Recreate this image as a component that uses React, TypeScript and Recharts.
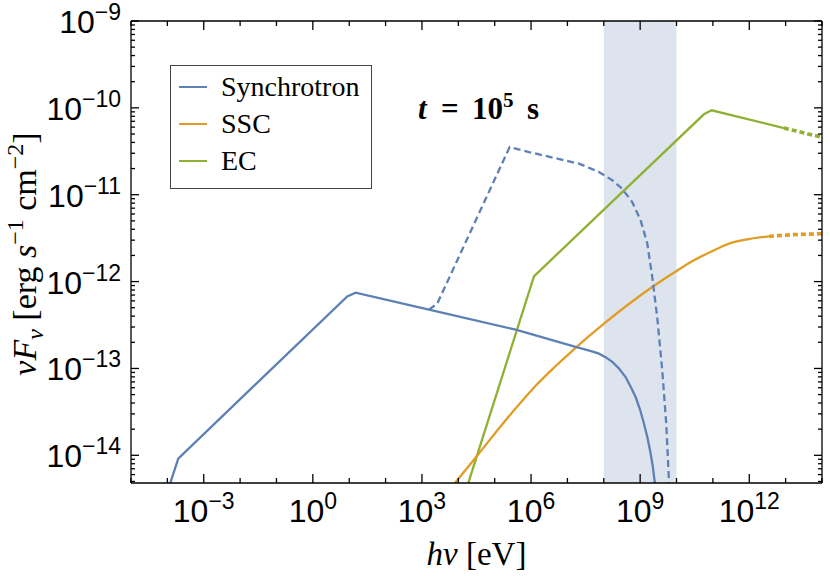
import { LineChart, Line, XAxis, YAxis, ReferenceArea, Legend } from 'recharts';

document.body.style.margin = '0';

const SANS = '"Liberation Sans", Arial, sans-serif';
const SERIF = '"Liberation Serif", "Times New Roman", serif';

const seriesNames = ['Synchrotron', 'SSC', 'EC'];
const seriesColors = ['#5E81B5', '#E19C24', '#8FB032'];

// synchrotron (solid)
const syncE = [8.71e-5, 1.99e-4, 8.83, 15.0, 1.56e3, 3.77e5, 1.68e7, 2.84e7, 4.72e7, 7.35e7, 1.15e8, 1.71e8, 2.61e8, 3.98e8, 5.57e8, 7.5e8, 9.86e8, 1.27e9, 1.58e9, 1.94e9, 2.24e9, 2.55e9, 2.88e9];
const syncF = [3.16e-15, 9.16e-15, 6.76e-13, 7.46e-13, 4.75e-13, 2.8e-13, 1.77e-13, 1.67e-13, 1.57e-13, 1.48e-13, 1.34e-13, 1.19e-13, 1.0e-13, 7.96e-14, 6.07e-14, 4.69e-14, 3.39e-14, 2.32e-14, 1.61e-14, 1.05e-14, 7.28e-15, 4.72e-15, 3.02e-15];

// synchrotron (dashed)
const syncDashE = [1.56e3, 2.63e3, 2.58e5, 8.75e5, 2.07e7, 7.35e7, 1.71e8, 3.21e8, 6.05e8, 1.03e9, 1.57e9, 2.15e9, 2.94e9, 4.05e9, 5.21e9, 6.18e9, 6.61e9];
const syncDashF = [4.75e-13, 5.57e-13, 3.54e-11, 3.1e-11, 2.28e-11, 1.83e-11, 1.47e-11, 1.17e-11, 8.24e-12, 5.08e-12, 2.74e-12, 1.13e-12, 3.91e-13, 9.53e-14, 2.32e-14, 5.15e-15, 3.02e-15];

// SSC
const sscE = [3.63e3, 9.33e3, 3.69e4, 2.0e5, 5.27e5, 1.34e6, 4.54e6, 1.68e7, 1.01e8, 2.15e9, 1.16e10, 3.01e10, 1.47e11, 2.76e11, 9.77e11, 3.48e12];
const sscF = [3.16e-15, 5.15e-15, 1.05e-14, 2.53e-14, 4.07e-14, 6.31e-14, 1.045e-13, 1.73e-13, 3.28e-13, 8.67e-13, 1.38e-12, 1.76e-12, 2.44e-12, 2.74e-12, 3.09e-12, 3.32e-12];
const sscExtE = [3.48e12, 1.58e13, 1e14];
const sscExtF = [3.32e-12, 3.47e-12, 3.56e-12];

// EC
const ecE = [1.37e4, 1.2e6, 5.66e10, 9.23e10, 8.98e12];
const ecF = [3.16e-15, 1.15e-12, 8.43e-11, 9.38e-11, 5.86e-11];
const ecExtE = [8.98e12, 1e14];
const ecExtF = [5.86e-11, 4.58e-11];

// shaded band
const bandE = [1e8, 1e10];

const xDomain = [1e-5, 1e14];
const yDomain = [4.8e-15, 1e-9];
const xTicks = [1e-5, 1e-4, 1e-3, 1e-2, 1e-1, 1, 1e1, 1e2, 1e3, 1e4, 1e5, 1e6, 1e7, 1e8, 1e9, 1e10, 1e11, 1e12, 1e13, 1e14];
const yDecades = [1e-15, 1e-14, 1e-13, 1e-12, 1e-11, 1e-10, 1e-9];
const yTicks = yDecades
  .flatMap((d) => [1, 2, 3, 4, 5, 6, 7, 8, 9].map((m) => m * d))
  .filter((v) => v >= yDomain[0] && v <= yDomain[1] * 1.0001);

const zip = (xs: number[], ys: number[]) => xs.map((x, i) => ({ x, y: ys[i] }));

const expOf = (v: number) => Math.round(Math.log10(v));
const isDecade = (v: number) => Math.abs(Math.log10(v) - expOf(v)) < 1e-6;
const expText = (e: number) => (e < 0 ? `\u2212${-e}` : `${e}`);

// eslint-disable-next-line @typescript-eslint/no-explicit-any
function BottomTick({ x, y, payload }: any) {
  const e = expOf(payload.value);
  const major = e % 3 === 0;
  return (
    <g>
      <line x1={x} x2={x} y1={y} y2={y - (major ? 9 : 5)} stroke="#000" strokeWidth={1.3} />
      {major && (
        <text x={x} y={y + 39} textAnchor="middle" fontFamily={SANS} fontSize={32} fill="#000">
          10<tspan dy={-13} fontSize={23}>{expText(e)}</tspan>
        </text>
      )}
    </g>
  );
}

// eslint-disable-next-line @typescript-eslint/no-explicit-any
function TopTick({ x, y, payload }: any) {
  const major = expOf(payload.value) % 3 === 0;
  return <line x1={x} x2={x} y1={y} y2={y + (major ? 9 : 5)} stroke="#000" strokeWidth={1.3} />;
}

// eslint-disable-next-line @typescript-eslint/no-explicit-any
function LeftTick({ x, y, payload }: any) {
  const dec = isDecade(payload.value);
  return (
    <g>
      <line x1={x} x2={x + (dec ? 8 : 4)} y1={y} y2={y} stroke="#000" strokeWidth={1.3} />
      {dec && (
        <text x={x - 10} y={y + 12} textAnchor="end" fontFamily={SANS} fontSize={32} fill="#000">
          10<tspan dy={-13} fontSize={23}>{expText(expOf(payload.value))}</tspan>
        </text>
      )}
    </g>
  );
}

// eslint-disable-next-line @typescript-eslint/no-explicit-any
function RightTick({ x, y, payload }: any) {
  const dec = isDecade(payload.value);
  return <line x1={x} x2={x - (dec ? 8 : 4)} y1={y} y2={y} stroke="#000" strokeWidth={1.3} />;
}

// eslint-disable-next-line @typescript-eslint/no-explicit-any
function XTitle({ viewBox }: any) {
  return (
    <text x={viewBox.x + viewBox.width / 2} y={viewBox.y + 82} textAnchor="middle" fontFamily={SERIF} fontSize={33} fill="#000">
      <tspan fontStyle="italic">hν</tspan> [eV]
    </text>
  );
}

// eslint-disable-next-line @typescript-eslint/no-explicit-any
function YTitle({ viewBox }: any) {
  const cx = viewBox.x + 36;
  const cy = viewBox.y + viewBox.height / 2 + 2;
  return (
    <text transform={`translate(${cx},${cy}) rotate(-90)`} textAnchor="middle" fontFamily={SERIF} fontSize={34} fill="#000">
      <tspan fontStyle="italic">νF</tspan>
      <tspan fontStyle="italic" fontSize={24} dy={7}>ν</tspan>
      <tspan dy={-7}> [erg </tspan>
      <tspan fontStyle="italic">s</tspan>
      <tspan fontSize={24} dy={-13}>{'\u22121'}</tspan>
      <tspan dy={13}> cm</tspan>
      <tspan fontSize={24} dy={-13}>{'\u22122'}</tspan>
      <tspan dy={13}>]</tspan>
    </text>
  );
}

function LegendBox() {
  return (
    <div style={{ width: 202, height: 124, border: '1px solid #444', background: '#fff', boxSizing: 'border-box', position: 'relative', fontFamily: SERIF, fontSize: 28, color: '#000' }}>
      {seriesNames.map((name, i) => (
        <div key={name} style={{ position: 'absolute', left: 0, top: 5 + i * 37, height: 32, display: 'flex', alignItems: 'center', whiteSpace: 'nowrap' }}>
          <span style={{ display: 'inline-block', marginLeft: 8, width: 28, height: 2.3, background: seriesColors[i] }} />
          <span style={{ marginLeft: 14 }}>{name}</span>
        </div>
      ))}
    </div>
  );
}

export default function App() {
  return (
    <div style={{ position: 'relative', width: 830, height: 576, background: '#fff' }}>
      <LineChart width={830} height={576} margin={{ top: 0, right: 0, bottom: 0, left: 0 }}>
        <XAxis
          xAxisId="bottom" dataKey="x" type="number" scale="log" domain={xDomain} allowDataOverflow
          ticks={xTicks} interval={0} tick={<BottomTick />} tickSize={0} tickMargin={0} tickLine={false}
          height={93} axisLine={{ stroke: '#000', strokeWidth: 1.3 }} label={<XTitle />}
        />
        <XAxis
          xAxisId="top" orientation="top" dataKey="x" type="number" scale="log" domain={xDomain} allowDataOverflow
          ticks={xTicks} interval={0} tick={<TopTick />} tickSize={0} tickMargin={0} tickLine={false}
          height={21} axisLine={{ stroke: '#000', strokeWidth: 1.3 }}
        />
        <YAxis
          yAxisId="left" type="number" scale="log" domain={yDomain} allowDataOverflow
          ticks={yTicks} interval={0} tick={<LeftTick />} tickSize={0} tickMargin={0} tickLine={false}
          width={131} axisLine={{ stroke: '#000', strokeWidth: 1.3 }} label={<YTitle />}
        />
        <YAxis
          yAxisId="right" orientation="right" type="number" scale="log" domain={yDomain} allowDataOverflow
          ticks={yTicks} interval={0} tick={<RightTick />} tickSize={0} tickMargin={0} tickLine={false}
          width={8} axisLine={{ stroke: '#000', strokeWidth: 1.3 }}
        />
        <ReferenceArea xAxisId="bottom" yAxisId="left" x1={bandE[0]} x2={bandE[1]} fill="#dde4ee" fillOpacity={1} stroke="none" />
        <Line xAxisId="bottom" yAxisId="left" data={zip(ecE, ecF)} dataKey="y" name={seriesNames[2]} stroke={seriesColors[2]} strokeWidth={2.3} dot={false} isAnimationActive={false} />
        <Line xAxisId="bottom" yAxisId="left" data={zip(ecExtE, ecExtF)} dataKey="y" legendType="none" stroke={seriesColors[2]} strokeWidth={3.6} strokeDasharray="5 3" dot={false} isAnimationActive={false} />
        <Line xAxisId="bottom" yAxisId="left" type="monotone" data={zip(sscE, sscF)} dataKey="y" name={seriesNames[1]} stroke={seriesColors[1]} strokeWidth={2.3} dot={false} isAnimationActive={false} />
        <Line xAxisId="bottom" yAxisId="left" data={zip(sscExtE, sscExtF)} dataKey="y" legendType="none" stroke={seriesColors[1]} strokeWidth={3.6} strokeDasharray="5 3" dot={false} isAnimationActive={false} />
        <Line xAxisId="bottom" yAxisId="left" data={zip(syncDashE, syncDashF)} dataKey="y" legendType="none" stroke={seriesColors[0]} strokeWidth={2.3} strokeDasharray="7 4" dot={false} isAnimationActive={false} />
        <Line xAxisId="bottom" yAxisId="left" data={zip(syncE, syncF)} dataKey="y" name={seriesNames[0]} stroke={seriesColors[0]} strokeWidth={2.3} dot={false} isAnimationActive={false} />
        <Legend layout="vertical" align="center" verticalAlign="middle" wrapperStyle={{ left: 170, top: 65, width: 202 }} content={<LegendBox />} />
      </LineChart>
      <svg width={830} height={576} style={{ position: 'absolute', left: 0, top: 0, pointerEvents: 'none' }}>
        <text y={119} fontFamily={SERIF} fontWeight="bold" fontSize={31} fill="#000">
          <tspan x={418} fontStyle="italic">t</tspan>
          <tspan x={441}>=</tspan>
          <tspan x={472}>10</tspan>
          <tspan dy={-12} fontSize={21}>5</tspan>
          <tspan x={527} dy={12}>s</tspan>
        </text>
      </svg>
    </div>
  );
}
